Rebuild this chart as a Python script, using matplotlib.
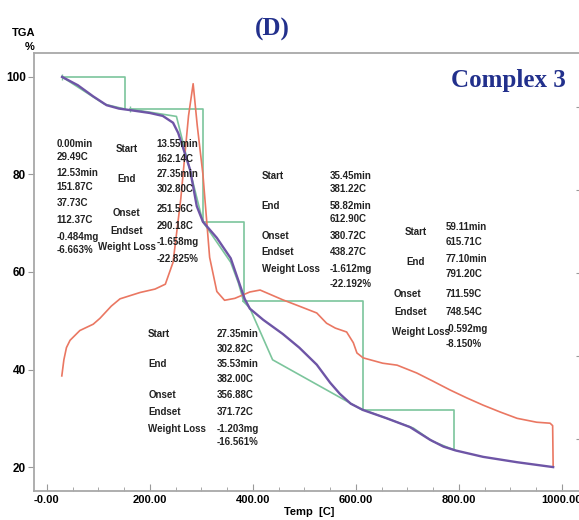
import numpy as np
import matplotlib.pyplot as plt
from matplotlib.ticker import MultipleLocator, FixedLocator, FixedFormatter

# TGA curve (mass %, purple)
tga_temp = [29.5, 60, 90, 116, 140, 161, 200, 225, 245, 255, 264, 278, 291, 303,
            330, 357, 384, 394, 420, 458, 490, 524, 550, 569, 590, 614, 660, 705,
            744, 770, 794, 847, 913, 983]
tga_mass = [100.0, 98.3, 96.0, 94.2, 93.5, 93.2, 92.6, 92.0, 90.6, 88.5, 85.6, 81.0,
            73.5, 70.3, 67.0, 62.8, 54.5, 52.5, 50.2, 47.3, 44.5, 41.0, 37.3, 35.0,
            33.0, 31.7, 30.0, 28.2, 25.6, 24.2, 23.4, 22.1, 21.0, 20.0]

# DTA curve (red), read on the TGA scale
dta_temp = [29, 33, 38, 45, 64, 90, 103, 125, 142, 181, 210, 230, 245, 260, 275, 284,
            292, 303, 316, 330, 345, 365, 394, 414, 458, 490, 524, 543, 560, 582, 595,
            602, 614, 652, 680, 718, 750, 783, 815, 847, 880, 913, 951, 977, 982, 983]
dta_val = [38.7, 42.0, 44.5, 46.0, 48.0, 49.3, 50.5, 53.0, 54.5, 55.8, 56.5, 57.5, 62.0,
           75.0, 92.0, 98.6, 90.0, 80.0, 63.0, 56.0, 54.2, 54.6, 55.9, 56.3, 54.3, 53.0,
           51.6, 49.5, 48.5, 47.7, 45.5, 43.4, 42.4, 41.3, 40.9, 39.3, 37.6, 35.8, 34.2,
           32.7, 31.3, 30.0, 29.2, 29.0, 28.5, 20.0]

# analysis steps (green): start / end temperature, mass at start / end
step_start = [29.49, 162.14, 302.82, 381.22, 615.71]
step_end = [151.87, 302.80, 382.00, 612.90, 791.20]
step_m0 = [100.0, 93.4, 70.3, 54.0, 31.7]
step_m1 = [93.4, 70.3, 54.0, 31.7, 23.5]

# onset / endset tangent lines of each step
tan_temp = [[29.49, 112, 151.87],
            [162.14, 251.56, 302.80],
            [302.82, 356.88, 371.72, 382.00],
            [381.22, 394, 438.27, 612.90],
            [615.71, 711.59, 748.54, 791.20]]
tan_mass = [[100.0, 94.4, 93.4],
            [93.4, 91.9, 70.3],
            [70.3, 62.0, 57.8, 54.0],
            [54.0, 52.6, 42.0, 31.7],
            [31.7, 28.0, 25.3, 23.5]]

x_ticks = [0, 200, 400, 600, 800, 1000]
x_labels = ['-0.00', '200.00', '400.00', '600.00', '800.00', '1000.00']
y_ticks = [20, 40, 60, 80, 100]

purple = '#6e55a6'
red = '#ea7762'
green = '#7cc59c'
navy = '#22308c'
narrow = ['Liberation Sans Narrow', 'Liberation Sans', 'DejaVu Sans']
sans = ['Liberation Sans', 'DejaVu Sans']

fig = plt.figure(figsize=(5.79, 5.20), dpi=100)
ax = fig.add_axes([34 / 579, 1 - 491 / 520, 548 / 579, 438 / 520])

for i in range(len(step_start)):
    ax.plot([step_start[i], step_end[i], step_end[i]],
            [step_m0[i], step_m0[i], step_m1[i]], color=green, lw=1.2)
    ax.plot(tan_temp[i], tan_mass[i], color=green, lw=1.2)
ax.plot(step_start[:2], step_m0[:2], ls='none', marker='|', ms=5, color=green, mew=1)

ax.plot(dta_temp, dta_val, color=red, lw=1.2)
ax.plot(tga_temp, tga_mass, color=purple, lw=1.7)

ax.set_xlim(-25, 1039)
ax.set_ylim(15.1, 104.9)

ax.xaxis.set_major_locator(FixedLocator(x_ticks))
ax.xaxis.set_major_formatter(FixedFormatter(x_labels))
ax.xaxis.set_minor_locator(MultipleLocator(50))
ax.set_yticks(y_ticks)
ax.set_yticklabels([str(v) for v in y_ticks])
ax.tick_params(axis='x', which='major', direction='in', length=5, color='#999999', pad=3)
ax.tick_params(axis='x', which='minor', direction='in', length=3, color='#999999')
ax.tick_params(axis='y', direction='out', length=4, color='#999999', pad=2)
for lab in ax.get_xticklabels():
    lab.set_fontfamily(sans)
    lab.set_fontweight('bold')
    lab.set_fontsize(8)
for lab in ax.get_yticklabels():
    lab.set_fontfamily(sans)
    lab.set_fontweight('bold')
    lab.set_fontsize(8.5)
for s in ax.spines.values():
    s.set_color('#a8a8a8')
    s.set_linewidth(1.3)

# small ticks of the hidden right (DTA) axis
ax2 = ax.twinx()
ax2.set_ylim(ax.get_ylim())
ax2.set_yticks([93.8, 76.8, 59.8, 42.8, 25.7])
ax2.set_yticklabels([])
ax2.tick_params(axis='y', direction='in', length=4, color='#999999')
for s in ax2.spines.values():
    s.set_visible(False)

ax.set_xlabel('Temp  [C]', fontfamily=sans, fontweight='bold', fontsize=8)
ax.xaxis.set_label_coords(0.502, -0.036)
fig.text(24 / 579, 1 - 32.5 / 520, 'TGA', ha='center', va='center',
         fontfamily=sans, fontweight='bold', fontsize=8)
fig.text(30 / 579, 1 - 47.5 / 520, '%', ha='center', va='center',
         fontfamily=sans, fontweight='bold', fontsize=8)
fig.text(272 / 579, 1 - 29 / 520, '(D)', ha='center', va='center', color=navy,
         fontfamily=['Liberation Serif', 'DejaVu Serif'], fontweight='bold', fontsize=18)
fig.text(508 / 579, 1 - 81 / 520, 'Complex 3', ha='center', va='center', color=navy,
         fontfamily=['Liberation Serif', 'DejaVu Serif'], fontweight='bold', fontsize=18)


def txt(x, y, s, ha='left'):
    ax.text(x, y, s, ha=ha, va='center', fontsize=7, fontweight='bold',
            fontfamily=narrow, color='#222222')


# step 1 and 2 tables
col1 = ['0.00min', '29.49C', '12.53min', '151.87C', '37.73C', '112.37C', '-0.484mg', '-6.663%']
col1_y = [86.3, 83.6, 80.3, 77.4, 74.2, 70.7, 67.2, 64.5]
for s, y in zip(col1, col1_y):
    txt(18.8, y, s)
for s, y in zip(['Start', 'End', 'Onset', 'Endset', 'Weight Loss'],
                [85.2, 79.1, 72.1, 68.4, 65.1]):
    txt(155.3, y, s, ha='center')
col2 = ['13.55min', '162.14C', '27.35min', '302.80C', '251.56C', '290.18C', '-1.658mg', '-22.825%']
col2_y = [86.3, 83.2, 80.1, 77.0, 72.9, 69.4, 66.2, 62.7]
for s, y in zip(col2, col2_y):
    txt(213, y, s)

# step 4 table
for s, y in zip(['Start', 'End', 'Onset', 'Endset', 'Weight Loss'],
                [79.75, 73.6, 67.4, 64.0, 60.6]):
    txt(416.9, y, s)
col4 = ['35.45min', '381.22C', '58.82min', '612.90C', '380.72C', '438.27C', '-1.612mg', '-22.192%']
col4_y = [79.75, 77.0, 73.6, 70.8, 67.4, 64.0, 60.6, 57.5]
for s, y in zip(col4, col4_y):
    txt(549.5, y, s)

# step 5 table
txt(715.9, 68.2, 'Start', ha='center')
txt(715.9, 62.0, 'End', ha='center')
txt(673.8, 55.4, 'Onset')
txt(673.8, 51.7, 'Endset')
txt(669.3, 47.6, 'Weight Loss')
col5 = ['59.11min', '615.71C', '77.10min', '791.20C', '711.59C', '748.54C', '-0.592mg', '-8.150%']
col5_y = [69.3, 66.2, 62.6, 59.5, 55.4, 51.7, 48.3, 45.2]
for s, y in zip(col5, col5_y):
    txt(774.2, y, s)

# step 3 table
for s, y in zip(['Start', 'End', 'Onset', 'Endset', 'Weight Loss'],
                [47.2, 41.1, 34.8, 31.3, 27.9]):
    txt(196.7, y, s)
col3 = ['27.35min', '302.82C', '35.53min', '382.00C', '356.88C', '371.72C', '-1.203mg', '-16.561%']
col3_y = [47.2, 44.2, 41.1, 38.05, 34.8, 31.3, 27.9, 25.1]
for s, y in zip(col3, col3_y):
    txt(329.5, y, s)

plt.savefig('out.png', dpi=100)
